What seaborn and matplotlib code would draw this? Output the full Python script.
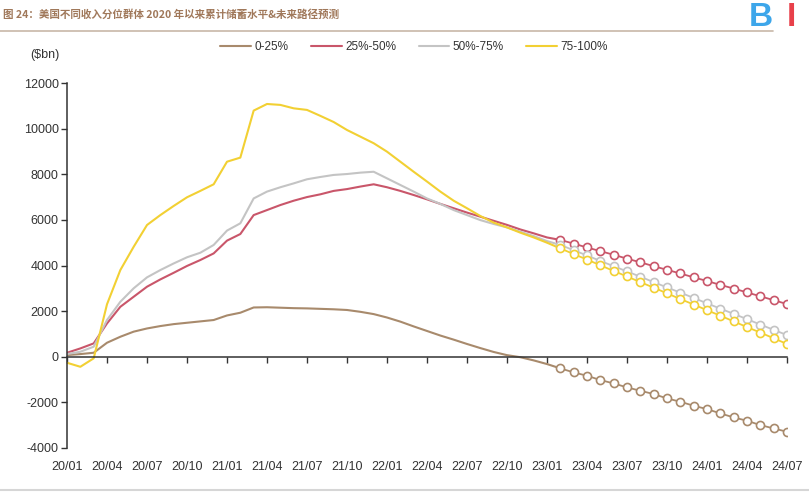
import numpy as np
import pandas as pd
import matplotlib
matplotlib.use("Agg")
import matplotlib.pyplot as plt
import seaborn as sns
from matplotlib.lines import Line2D

# ---------------- data ----------------
groups = ["0-25%", "25%-50%", "50%-75%", "75-100%"]
tick_labels = ["20/01", "20/04", "20/07", "20/10", "21/01", "21/04", "21/07", "21/10",
               "22/01", "22/04", "22/07", "22/10", "23/01", "23/04", "23/07", "23/10",
               "24/01", "24/04", "24/07"]

# historical: monthly 2020/01 .. 2023/02 (38 points)
hist_0_25 = [73, 117, 175, 614, 877, 1100, 1240, 1345, 1430, 1490, 1550, 1610, 1810, 1930,
             2160, 2170, 2150, 2130, 2120, 2100, 2080, 2050, 1970, 1870, 1720, 1540, 1330,
             1130, 930, 750, 560, 380, 210, 70, -20, -160, -320, -510]
hist_25_50 = [175, 365, 585, 1460, 2190, 2630, 3070, 3390, 3680, 3980, 4240, 4530, 5090, 5380,
              6210, 6430, 6650, 6840, 7000, 7120, 7270, 7350, 7460, 7560, 7430, 7270, 7090,
              6900, 6700, 6510, 6320, 6140, 5960, 5780, 5580, 5410, 5230, 5120]
hist_50_75 = [117, 220, 440, 1610, 2410, 3000, 3480, 3800, 4090, 4360, 4560, 4900, 5530, 5850,
              6940, 7240, 7430, 7600, 7780, 7880, 7970, 8010, 8070, 8110, 7820, 7530, 7240,
              6940, 6700, 6430, 6210, 5990, 5820, 5670, 5480, 5290, 5070, 4900]
hist_75_100 = [-263, -440, -70, 2300, 3800, 4820, 5775, 6210, 6610, 6990, 7270, 7560, 8550, 8730,
               10790, 11080, 11040, 10890, 10820, 10560, 10290, 9940, 9650, 9360, 8990, 8550,
               8110, 7680, 7240, 6840, 6510, 6170, 5880, 5670, 5440, 5230, 5000, 4750]

# forecast: monthly 2023/02 .. 2024/07 (18 points)
fc_0_25 = [-510, -686, -832, -1022, -1168, -1344, -1490, -1636, -1826, -1972, -2148, -2294,
           -2484, -2659, -2806, -2996, -3142, -3288]
fc_25_50 = [5120, 4960, 4790, 4630, 4470, 4300, 4140, 3970, 3810, 3650, 3480, 3320, 3150,
            2990, 2820, 2650, 2480, 2310]
fc_50_75 = [4900, 4670, 4440, 4200, 3970, 3740, 3510, 3270, 3040, 2810, 2580, 2340, 2110,
            1880, 1650, 1410, 1180, 950]
fc_75_100 = [4750, 4500, 4260, 4010, 3760, 3520, 3270, 3030, 2780, 2530, 2290, 2040, 1800,
             1550, 1300, 1060, 810, 560]

colors = ["#a88a6c", "#c9566a", "#c4c4c4", "#f2d033"]

# ---------------- build frames ----------------
hist_all = [hist_0_25, hist_25_50, hist_50_75, hist_75_100]
fc_all = [fc_0_25, fc_25_50, fc_50_75, fc_75_100]
n_hist = len(hist_0_25)
rows_h, rows_f = [], []
for g, h, f in zip(groups, hist_all, fc_all):
    for i, v in enumerate(h):
        rows_h.append((i, v, g))
    for j, v in enumerate(f):
        rows_f.append((n_hist - 1 + j, v, g))
df_h = pd.DataFrame(rows_h, columns=["m", "v", "g"])
df_f = pd.DataFrame(rows_f, columns=["m", "v", "g"])

# ---------------- plot ----------------
sns.set_style("white")
plt.rcParams["font.family"] = ["Liberation Sans", "DejaVu Sans"]

fig = plt.figure(figsize=(8.09, 4.92), dpi=100)
ax = fig.add_axes([67 / 809, 1 - 448 / 492, (787 - 67) / 809, (448 - 83) / 492])

pal = dict(zip(groups, colors))
sns.lineplot(data=df_h, x="m", y="v", hue="g", palette=pal, hue_order=groups,
             linewidth=1.5, legend=False, ax=ax, sort=True)
for g in groups:
    sub = df_f[df_f.g == g]
    sns.lineplot(data=sub, x="m", y="v", color=pal[g], linewidth=1.3, marker="o",
                 markersize=5.8, markerfacecolor="white", markeredgecolor=pal[g],
                 markeredgewidth=1.2, legend=False, ax=ax)

ax.set_xlim(0, 54)
ax.set_ylim(-4000, 12000)
ax.set_yticks(np.arange(-4000, 12001, 2000))
ax.set_yticklabels([str(v) for v in range(-4000, 12001, 2000)])
ax.set_xlabel("")
ax.set_ylabel("")

for s in ["top", "right"]:
    ax.spines[s].set_visible(False)
ax.spines["left"].set_color("#333333")
ax.spines["left"].set_linewidth(1.1)
ax.spines["bottom"].set_position(("data", 0))
ax.spines["bottom"].set_color("#333333")
ax.spines["bottom"].set_linewidth(1.1)

xt = np.arange(0, 55, 3)
ax.set_xticks(xt)
ax.tick_params(axis="x", direction="out", length=4, width=1, color="#333333",
               labelbottom=False, bottom=True)
ax.tick_params(axis="y", direction="out", length=4, width=1, color="#333333",
               labelsize=9, labelcolor="#333333", left=True, pad=2)

sec = ax.secondary_xaxis("bottom")
sec.set_xticks(xt)
sec.set_xticklabels(tick_labels)
sec.tick_params(length=0, labelsize=9, labelcolor="#333333", pad=9)
sec.spines["bottom"].set_visible(False)

# unit label
fig.text(45 / 809, 1 - 55 / 492, "($bn)", fontsize=9, color="#333333",
         ha="center", va="center")

# legend
handles = [Line2D([0], [0], color=c, lw=1.5) for c in colors]
fig.legend(handles, groups, loc="center", bbox_to_anchor=(0.512, 1 - 47 / 492), ncol=4,
           frameon=False, fontsize=8.5, handlelength=2.6, handletextpad=0.3,
           columnspacing=1.9, labelcolor="#333333")

# title & decorations
fig.text(0.004, 1 - 15 / 492, "图 24：美国不同收入分位群体 2020 年以来累计储蓄水平&未来路径预测",
         fontsize=7.6, fontweight="bold", color="#a0785a",
         family=["Noto Sans CJK SC", "DejaVu Sans"], ha="left", va="center")
fig.add_artist(Line2D([0, 0.955], [1 - 31 / 492] * 2, color="#c8b8a8", lw=1.2,
                      transform=fig.transFigure))
fig.text(0.94, 1 - 17 / 492, "B", fontsize=24, fontweight="bold", color="#3da6ea",
         ha="center", va="center")
fig.text(0.972, 1 - 17 / 492, "I", fontsize=24, fontweight="bold", color="#e8404a",
         ha="left", va="center")
fig.add_artist(Line2D([0, 1], [1 - 490 / 492] * 2, color="#d6d6d6", lw=1.5,
                      transform=fig.transFigure))

fig.savefig("out.png", dpi=100, facecolor="white")
